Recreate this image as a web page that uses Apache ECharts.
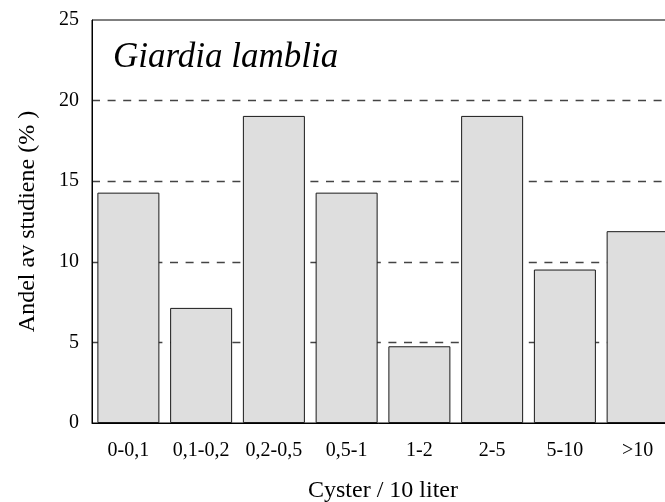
<!DOCTYPE html>
<html>
<head>
<meta charset="utf-8">
<script src="https://cdn.jsdelivr.net/npm/echarts@6/dist/echarts.min.js"></script>
<style>
  html, body { margin: 0; padding: 0; background: #fff; }
  #chart { width: 665px; height: 502px; }
</style>
</head>
<body>
<div id="chart"></div>
<script>
const categories = ['0-0,1', '0,1-0,2', '0,2-0,5', '0,5-1', '1-2', '2-5', '5-10', '>10']
const shares = [14.29, 7.14, 19.05, 14.29, 4.76, 19.05, 9.52, 11.9]

const font = '"Liberation Serif", "Times New Roman", serif'
const chart = echarts.init(document.getElementById('chart'))

chart.setOption({
  animation: false,
  title: {
    text: 'Giardia lamblia',
    left: 108,
    top: 35,
    textStyle: { fontFamily: font, fontSize: 35, fontStyle: 'italic', fontWeight: 'normal', color: '#000' },
  },
  grid: {
    left: 92,
    top: 20,
    width: 582,
    height: 403,
    outerBoundsMode: 'none',
    containLabel: false,
    show: true,
    borderColor: '#000',
    borderWidth: 1,
  },
  xAxis: {
    type: 'category',
    data: categories,
    name: 'Cyster / 10 liter',
    nameLocation: 'middle',
    nameGap: 56,
    nameTextStyle: { fontFamily: font, fontSize: 24, color: '#000' },
    axisLine: { lineStyle: { color: '#000', width: 1 } },
    axisTick: { alignWithLabel: true, length: 5, lineStyle: { color: '#000' } },
    axisLabel: { fontFamily: font, fontSize: 20, color: '#000', margin: 18, interval: 0 },
  },
  yAxis: {
    type: 'value',
    min: 0,
    max: 25,
    interval: 5,
    name: 'Andel av studiene (% )',
    nameLocation: 'middle',
    nameGap: 52,
    nameTextStyle: { fontFamily: font, fontSize: 24, color: '#000' },
    axisLine: { show: true, lineStyle: { color: '#000', width: 1 } },
    axisTick: { show: false },
    axisLabel: { fontFamily: font, fontSize: 20, color: '#000', margin: 13 },
    splitLine: {
      showMinLine: false,
      showMaxLine: false,
      lineStyle: { color: '#444', type: [8, 7.6], width: 1.3 },
    },
  },
  series: [
    {
      type: 'bar',
      data: shares,
      barWidth: 62,
      itemStyle: { color: '#dedede', borderColor: '#1a1a1a', borderWidth: 1 },
    },
  ],
})
</script>
</body>
</html>
